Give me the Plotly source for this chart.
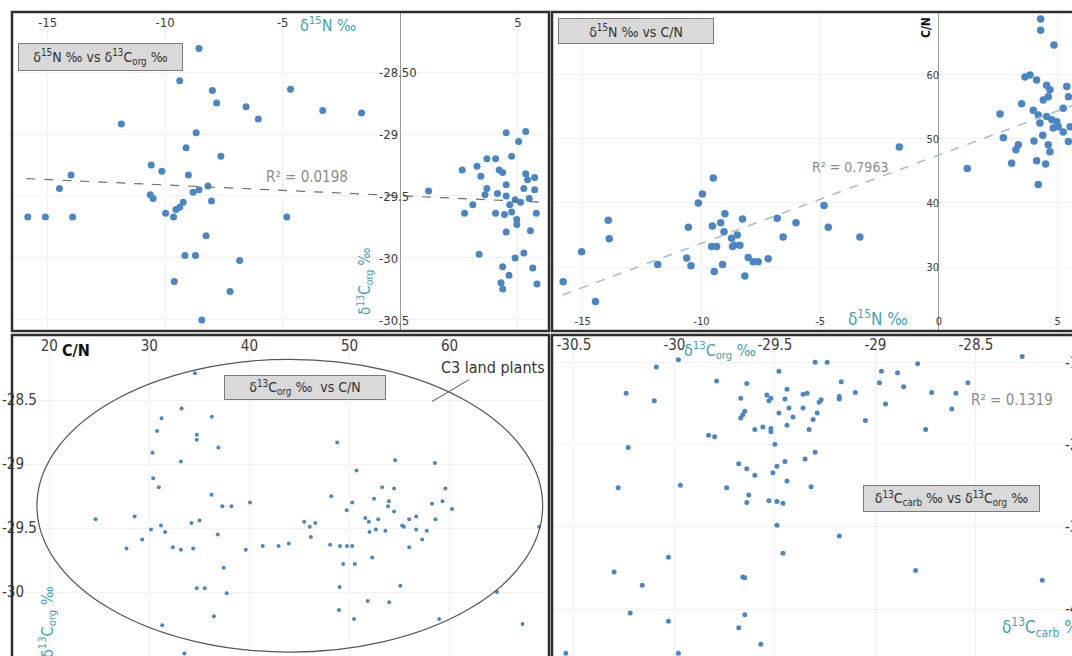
import plotly.graph_objects as go

W, H = 1072, 656

# ---------------- data ----------------
# Panel A: d15N vs d13Corg
n15_a = [-8.56, -9.38, -7.99, -7.81, -4.67, -6.56, -6.04, -3.30, -1.65, -11.86, -8.68, -9.11, -7.63,
         -10.59, -10.14, -9.01, -14.0, -14.49, -15.84, -15.09, -13.93, -10.63, -10.51, -9.98, -9.64,
         -9.54, -9.38, -9.23, -8.81, -8.56, -8.18, -8.03, -8.26, -9.16, -8.71, -6.83, -9.61, -7.24,
         -8.44, -4.83, 1.20, 2.63, 3.26, 3.68, 4.05, 4.73, 4.50, 5.33, 5.03, 3.42, 4.20, 4.35, 5.33,
         5.71, 5.41, 3.68, 3.60, 4.13, 4.50, 4.50, 4.88, 5.11, 4.65, 5.25, 5.71, 5.48, 3.08, 2.73,
         4.05, 4.43, 4.73, 4.95, 5.78, 4.95, 4.50, 5.53, 3.35, 5.25, 4.88, 4.35, 4.62, 5.63, 4.28,
         4.35, 5.81]
corg_a = [-28.31, -28.57, -28.65, -28.75, -28.64, -28.78, -28.88, -28.81, -28.83, -28.92, -28.99,
          -29.11, -29.18, -29.25, -29.30, -29.33, -29.33, -29.44, -29.67, -29.67, -29.67, -29.49,
          -29.52, -29.64, -29.67, -29.61, -29.59, -29.55, -29.47, -29.45, -29.42, -29.54, -29.82,
          -29.98, -29.98, -30.02, -30.19, -30.27, -30.50, -29.67, -29.46, -29.29, -29.26, -29.20,
          -29.20, -29.18, -28.99, -28.98, -29.06, -29.34, -29.29, -29.31, -29.32, -29.35, -29.37,
          -29.44, -29.49, -29.48, -29.41, -29.50, -29.53, -29.55, -29.57, -29.44, -29.45, -29.52,
          -29.57, -29.64, -29.64, -29.65, -29.63, -29.69, -29.64, -29.73, -29.79, -29.78, -29.97,
          -29.96, -30.00, -30.07, -30.14, -30.08, -30.20, -30.25, -30.21]

# Panel B: d15N vs C/N
n15_b = [-15.82, -15.04, -14.46, -13.92, -13.88, -11.84, -10.55, -10.62, -10.44, -10.13, -9.96, -9.50,
         -9.54, -9.57, -9.36, -9.46, -9.11, -9.19, -9.01, -9.05, -8.73, -8.62, -8.49, -8.38, -8.69,
         -8.27, -8.17, -8.03, -7.82, -7.61, -7.19, -6.81, -6.56, -6.02, -4.84, -4.66, -3.33, -1.67,
         1.19, 2.57, 2.71, 3.06, 3.24, 3.34, 3.48, 3.62, 3.83, 4.11, 3.97, 4.00, 4.11, 4.49, 4.18,
         4.28, 4.28, 4.84, 4.18, 4.25, 4.37, 4.53, 4.67, 4.60, 4.39, 4.53, 4.75, 4.96, 4.81, 5.02,
         4.60, 4.67, 5.23, 5.38, 5.45, 5.23, 5.45, 5.52]
cn_b = [27.7, 32.4, 24.6, 37.3, 34.4, 30.4, 36.2, 31.4, 30.2, 40.0, 41.4, 43.9, 36.4, 33.2, 33.2, 29.3,
        30.4, 36.9, 38.3, 35.5, 34.5, 33.4, 35.0, 33.4, 33.2, 37.5, 28.6, 31.5, 30.8, 30.8, 31.3, 37.6,
        34.7, 36.9, 39.6, 36.2, 34.7, 48.75, 45.4, 53.9, 50.2, 46.2, 48.3, 49.1, 55.5, 59.7, 60.0,
        59.2, 54.5, 49.7, 46.6, 46.1, 42.9, 68.75, 67.0, 64.7, 53.75, 52.5, 50.6, 58.4, 57.7, 56.6,
        56.1, 53.5, 53.0, 52.7, 51.7, 51.9, 49.1, 48.0, 54.8, 58.2, 56.6, 51.1, 49.6, 51.9]

# Panel C: C/N vs d13Corg
cn_c = [34.56, 33.22, 36.24, 31.22, 30.77, 34.74, 34.74, 48.77, 36.90, 30.32, 33.16, 54.56, 58.53,
        50.70, 30.38, 30.95, 53.26, 54.45, 59.58, 36.21, 48.17, 52.45, 53.93, 58.24, 59.29, 50.27,
        40.06, 37.29, 38.21, 60.24, 49.72, 53.85, 54.45, 51.58, 28.53, 24.63, 35.01, 51.93, 52.87,
        55.96, 56.66, 58.59, 34.21, 45.47, 46.03, 46.59, 55.26, 55.43, 56.66, 57.72, 52.63, 53.58,
        52.00, 30.17, 31.16, 31.58, 36.84, 46.14, 57.26, 29.29, 27.72, 32.35, 33.16, 34.38, 39.64,
        41.33, 42.91, 43.93, 48.06, 49.05, 49.75, 50.27, 55.96, 52.27, 37.43, 49.37, 50.53, 49.01,
        34.74, 35.54, 55.08, 37.72, 64.74, 51.82, 53.96, 48.95, 36.45, 50.45, 58.95, 31.29, 67.29,
        33.50, 68.95]
corg_c = [-28.29, -28.565, -28.63, -28.64, -28.74, -28.77, -28.81, -28.83, -28.87, -28.91, -28.98,
          -28.97, -28.99, -29.05, -29.11, -29.18, -29.18, -29.19, -29.19, -29.24, -29.25, -29.27,
          -29.29, -29.31, -29.29, -29.30, -29.30, -29.33, -29.33, -29.35, -29.36, -29.33, -29.37,
          -29.42, -29.41, -29.43, -29.44, -29.45, -29.43, -29.43, -29.41, -29.43, -29.46, -29.45,
          -29.49, -29.46, -29.48, -29.49, -29.51, -29.52, -29.51, -29.52, -29.53, -29.51, -29.48,
          -29.53, -29.55, -29.57, -29.59, -29.59, -29.66, -29.65, -29.67, -29.66, -29.67, -29.64,
          -29.64, -29.62, -29.63, -29.64, -29.64, -29.64, -29.65, -29.73, -29.81, -29.78, -29.78,
          -29.96, -29.97, -29.97, -29.95, -30.01, -30.00, -30.07, -30.08, -30.14, -30.19, -30.21,
          -30.21, -30.26, -30.25, -30.48, -29.49]

# Panel D: d13Corg vs d13Ccarb
corg_d = [-28.27, -29.98, -30.09, -29.30, -29.24, -28.79, -29.48, -28.97, -28.89, -29.79, -29.64,
          -29.17, -28.98, -28.54, -28.86, -29.44, -30.24, -29.10, -28.72, -28.60, -30.10, -29.67,
          -29.54, -29.52, -29.53, -29.45, -29.36, -29.34, -29.27, -29.28, -29.18, -29.18, -28.95,
          -29.65, -29.66, -29.67, -29.48, -29.43, -29.41, -29.36, -29.29, -29.31, -29.05, -28.62,
          -29.60, -29.56, -29.52, -29.52, -29.44, -29.33, -28.75, -29.83, -29.80, -29.50, -30.23,
          -29.30, -29.35, -29.45, -29.68, -29.64, -29.49, -29.60, -29.51, -29.44, -30.28, -29.97,
          -29.74, -29.32, -29.63, -29.64, -29.53, -29.49, -29.46, -29.49, -29.18, -29.46, -30.03,
          -30.30, -30.16, -29.66, -29.65, -28.80, -28.17, -30.22, -30.03, -29.65, -29.68, -29.57,
          -30.54, -29.98]
ccarb_d = [-0.92, -0.96, -1.05, -0.99, -0.99, -1.01, -1.10, -1.10, -1.12, -1.22, -1.25, -1.23, -1.24,
           -1.24, -1.29, -1.32, -1.37, -1.36, -1.36, -1.37, -1.46, -1.43, -1.39, -1.43, -1.46, -1.44,
           -1.38, -1.37, -1.45, -1.48, -1.41, -1.44, -1.50, -1.59, -1.63, -1.67, -1.61, -1.55, -1.66,
           -1.55, -1.61, -1.69, -1.70, -1.56, -1.81, -1.78, -1.80, -1.84, -1.76, -1.81, -1.81, -1.88,
           -1.90, -1.99, -2.03, -2.09, -2.17, -2.20, -2.23, -2.29, -2.26, -2.37, -2.34, -2.44, -2.52,
           -2.49, -2.52, -2.51, -2.61, -2.70, -2.68, -2.69, -2.71, -2.98, -3.11, -3.32, -3.37, -3.55,
           -3.71, -3.61, -3.62, -3.53, -3.65, -4.05, -4.15, -4.07, -4.23, -4.43, -4.54, -4.54]

# Linear trends (slope, intercept) and drawn x-extent
trend_a = dict(slope=-0.0087, intercept=-29.498, x=[-15.9, 6.3], r2="R² = 0.0198")
trend_b = dict(slope=1.38, intercept=47.5, x=[-15.85, 6.0], r2="R² = 0.7963")
trend_d = dict(slope=0.80, intercept=-2.91 - 0.80 * 30.545, x=[-30.55, -28.15], r2="R² = 0.1319")

# C3 land plant field (C/N, d13Corg)
c3_field = dict(cn=[18.77, 69.3], corg=[-30.47, -28.18])
c3_leader = dict(cn=[58.25, 61.93], corg=[-28.51, -28.34])

# tick labels
ticks_a_x = [-15, -10, -5, 5]
ticks_a_y = [-28.5, -29, -29.5, -30, -30.5]
ticktext_a_y = ["-28.50", "-29", "-29.5", "-30", "-30.5"]
ticks_b_x = [-15, -10, -5, 0, 5]
ticks_b_y = [30, 40, 50, 60]
ticks_c_x = [20, 30, 40, 50, 60]
ticks_c_y = [-28.5, -29, -29.5, -30]
ticks_d_x = [-30.5, -30, -29.5, -29, -28.5]
ticks_d_y = [-1, -2, -3, -4]


def hy(vals):
    return [("%g" % v).replace("\u2212", "-") for v in vals]


# ---------------- styling ----------------
FONT = "DejaVu Sans Condensed, Liberation Sans Narrow, Arial Narrow, Liberation Sans, sans-serif"
DOT = "#4a86c6"
TEAL = "#3fa3b3"
TICK = "#3c3c3c"
GRID = "#f1f1f1"
FRAME = "#2e2e2e"


def px(x):
    return x / W


def py(y):
    return 1 - y / H


dom_left = [px(12), px(549)]
dom_right = [px(552), 1.0]
dom_top = [py(331), py(12)]
dom_bot = [0.0, py(335)]

fig = go.Figure()

# scatter points
fig.add_trace(go.Scatter(x=n15_a, y=corg_a, mode="markers", xaxis="x", yaxis="y",
                         marker=dict(size=7, color=DOT), cliponaxis=True, hoverinfo="skip"))
fig.add_trace(go.Scatter(x=n15_b, y=cn_b, mode="markers", xaxis="x2", yaxis="y2",
                         marker=dict(size=7.5, color=DOT), cliponaxis=True, hoverinfo="skip"))
fig.add_trace(go.Scatter(x=cn_c, y=corg_c, mode="markers", xaxis="x3", yaxis="y3",
                         marker=dict(size=4, color=DOT), cliponaxis=True, hoverinfo="skip"))
fig.add_trace(go.Scatter(x=corg_d, y=ccarb_d, mode="markers", xaxis="x4", yaxis="y4",
                         marker=dict(size=5, color=DOT), cliponaxis=True, hoverinfo="skip"))


def trend_trace(t, xa, ya, color, dash, width):
    xs = t["x"]
    ys = [t["slope"] * v + t["intercept"] for v in xs]
    return go.Scatter(x=xs, y=ys, mode="lines", xaxis=xa, yaxis=ya,
                      line=dict(color=color, dash=dash, width=width), hoverinfo="skip")


fig.add_trace(trend_trace(trend_a, "x", "y", "#6f6f6f", "dash", 1.2))
fig.add_trace(trend_trace(trend_b, "x2", "y2", "#a9bdd0", "dash", 1.6))
fig.add_trace(trend_trace(trend_d, "x4", "y4", "#cccccc", "dot", 1.8))

tickfont_a = dict(family=FONT, size=13, color=TICK)
tickfont_b = dict(family=FONT, size=11, color=TICK)
tickfont_c = dict(family=FONT, size=15, color=TICK)

common = dict(showline=False, showgrid=True, gridcolor=GRID, gridwidth=1, fixedrange=True,
              tickmode="array", automargin=False)

layout_axes = dict(
    # panel A
    xaxis=dict(domain=dom_left, anchor="y", side="top", range=[-16.51, 6.32],
               tickvals=ticks_a_x, ticktext=hy(ticks_a_x), tickfont=tickfont_a,
               ticks="inside", ticklen=6, tickcolor="rgba(0,0,0,0)", ticklabelposition="inside",
               zeroline=True, zerolinecolor="#9a9a9a", zerolinewidth=1, **common),
    yaxis=dict(domain=dom_top, anchor="free", position=px(378), side="right",
               range=[-30.589, -28.016], tickvals=ticks_a_y, ticktext=ticktext_a_y,
               tickfont=tickfont_a, ticks="", zeroline=False, **common),
    # panel B
    xaxis2=dict(domain=dom_right, anchor="y2", side="bottom", range=[-16.29, 5.6],
                tickvals=ticks_b_x, ticktext=hy(ticks_b_x), tickfont=tickfont_b,
                ticks="inside", ticklen=3, tickcolor="rgba(0,0,0,0)", ticklabelposition="inside",
                zeroline=True, zerolinecolor="#9a9a9a", zerolinewidth=1, **common),
    yaxis2=dict(domain=dom_top, anchor="free", position=px(939), side="left",
                range=[20.0, 69.84], tickvals=ticks_b_y, ticktext=hy(ticks_b_y),
                tickfont=tickfont_b, ticks="", zeroline=False, **common),
    # panel C
    xaxis3=dict(domain=dom_left, anchor="y3", side="top", range=[16.28, 69.93],
                tickvals=ticks_c_x, ticktext=hy(ticks_c_x), tickfont=tickfont_c,
                ticks="inside", ticklen=5, tickcolor="rgba(0,0,0,0)", ticklabelposition="inside",
                zeroline=False, **common),
    yaxis3=dict(domain=dom_bot, anchor="free", position=px(1), side="right",
                range=[-30.5, -27.99], tickvals=ticks_c_y, ticktext=hy(ticks_c_y),
                tickfont=tickfont_c, ticks="", zeroline=False, **common),
    # panel D
    xaxis4=dict(domain=dom_right, anchor="y4", side="top", range=[-30.609, -28.022],
                tickvals=ticks_d_x, ticktext=hy(ticks_d_x), tickfont=tickfont_c,
                ticks="inside", ticklen=4, tickcolor="rgba(0,0,0,0)", ticklabelposition="inside",
                zeroline=False, **common),
    yaxis4=dict(domain=dom_bot, anchor="free", position=px(1064), side="right",
                range=[-4.573, -0.659], tickvals=ticks_d_y, ticktext=hy(ticks_d_y),
                tickfont=tickfont_c, ticks="", zeroline=False, **common),
)


def label_box(text, cx, cy, w, h, size=14):
    return dict(text=text, xref="paper", yref="paper", x=px(cx), y=py(cy),
                xanchor="center", yanchor="middle", showarrow=False,
                width=w - 2, height=h - 2, borderpad=0, align="center", valign="middle",
                bgcolor="#d9d9d9", bordercolor="#7a7a7a", borderwidth=1,
                font=dict(family=FONT, size=size, color="#333333"))


def free_text(text, cx, cy, size, color, angle=0, xanchor="center", bold=False):
    return dict(text=("<b>%s</b>" % text) if bold else text, xref="paper", yref="paper",
                x=px(cx), y=py(cy), xanchor=xanchor, yanchor="middle", showarrow=False,
                textangle=angle, font=dict(family=FONT, size=size, color=color))


N15 = "δ<sup>15</sup>N ‰"
CORG = "δ<sup>13</sup>C<sub>org</sub> ‰"
CCARB = "δ<sup>13</sup>C<sub>carb</sub> ‰"

annotations = [
    # panel titles
    label_box("δ<sup>15</sup>N ‰ vs δ<sup>13</sup>C<sub>org</sub> ‰", 100.5, 57, 165, 28, 14),
    label_box("δ<sup>15</sup>N ‰ vs C/N", 636, 31, 156, 26, 14),
    label_box("δ<sup>13</sup>C<sub>org</sub> ‰  vs C/N", 305, 387.5, 162, 25, 14),
    label_box("δ<sup>13</sup>C<sub>carb</sub> ‰ vs δ<sup>13</sup>C<sub>org</sub> ‰", 951.5, 498.5, 177, 27, 14),
    # axis titles
    free_text(N15, 328, 25, 16, TEAL),
    free_text(CORG, 364, 281, 15, TEAL, angle=-90),
    free_text(N15, 878, 318, 17, TEAL),
    free_text("C/N", 926, 28, 12, "#111111", angle=-90, bold=True),
    free_text("C/N", 76, 350, 16, "#111111", bold=True),
    free_text(CORG, 47, 622, 16, TEAL, angle=-90),
    free_text(CORG, 720, 350, 16, TEAL),
    free_text(CCARB, 1000, 627, 17, TEAL, xanchor="left"),
    free_text("C3 land plants", 439, 367, 16, "#333333", xanchor="left"),
]

# R² labels placed in data space next to their trend lines
annotations += [
    dict(text=trend_a["r2"], xref="x", yref="y", x=-3.95, y=-29.347, showarrow=False,
         font=dict(family=FONT, size=15, color="#8c8c8c")),
    dict(text=trend_b["r2"], xref="x2", yref="y2", x=-3.75, y=45.6, showarrow=False,
         font=dict(family=FONT, size=14, color="#8c8c8c")),
    dict(text=trend_d["r2"], xref="x4", yref="y4", x=-28.32, y=-1.45, showarrow=False,
         font=dict(family=FONT, size=15, color="#8c8c8c")),
]

shapes = [
    dict(type="circle", xref="x3", yref="y3", x0=c3_field["cn"][0], x1=c3_field["cn"][1],
         y0=c3_field["corg"][0], y1=c3_field["corg"][1], line=dict(color="#555555", width=1.2)),
    dict(type="line", xref="x3", yref="y3", x0=c3_leader["cn"][0], x1=c3_leader["cn"][1],
         y0=c3_leader["corg"][0], y1=c3_leader["corg"][1], line=dict(color="#555555", width=1)),
]

# panel frames
for (x0, y0, x1, y1) in [(12, 12, 549, 331), (552, 12, 1090, 331),
                         (12, 335, 549, 680), (552, 335, 1090, 680)]:
    shapes.append(dict(type="rect", xref="paper", yref="paper", x0=px(x0), x1=px(x1),
                       y0=py(y1), y1=py(y0), layer="above",
                       line=dict(color=FRAME, width=2.5)))

fig.update_layout(
    width=W, height=H, margin=dict(l=0, r=0, t=0, b=0, autoexpand=False),
    paper_bgcolor="white", plot_bgcolor="white", showlegend=False,
    annotations=annotations, shapes=shapes, **layout_axes,
)

fig.write_html("out.html", config=dict(displayModeBar=False))
